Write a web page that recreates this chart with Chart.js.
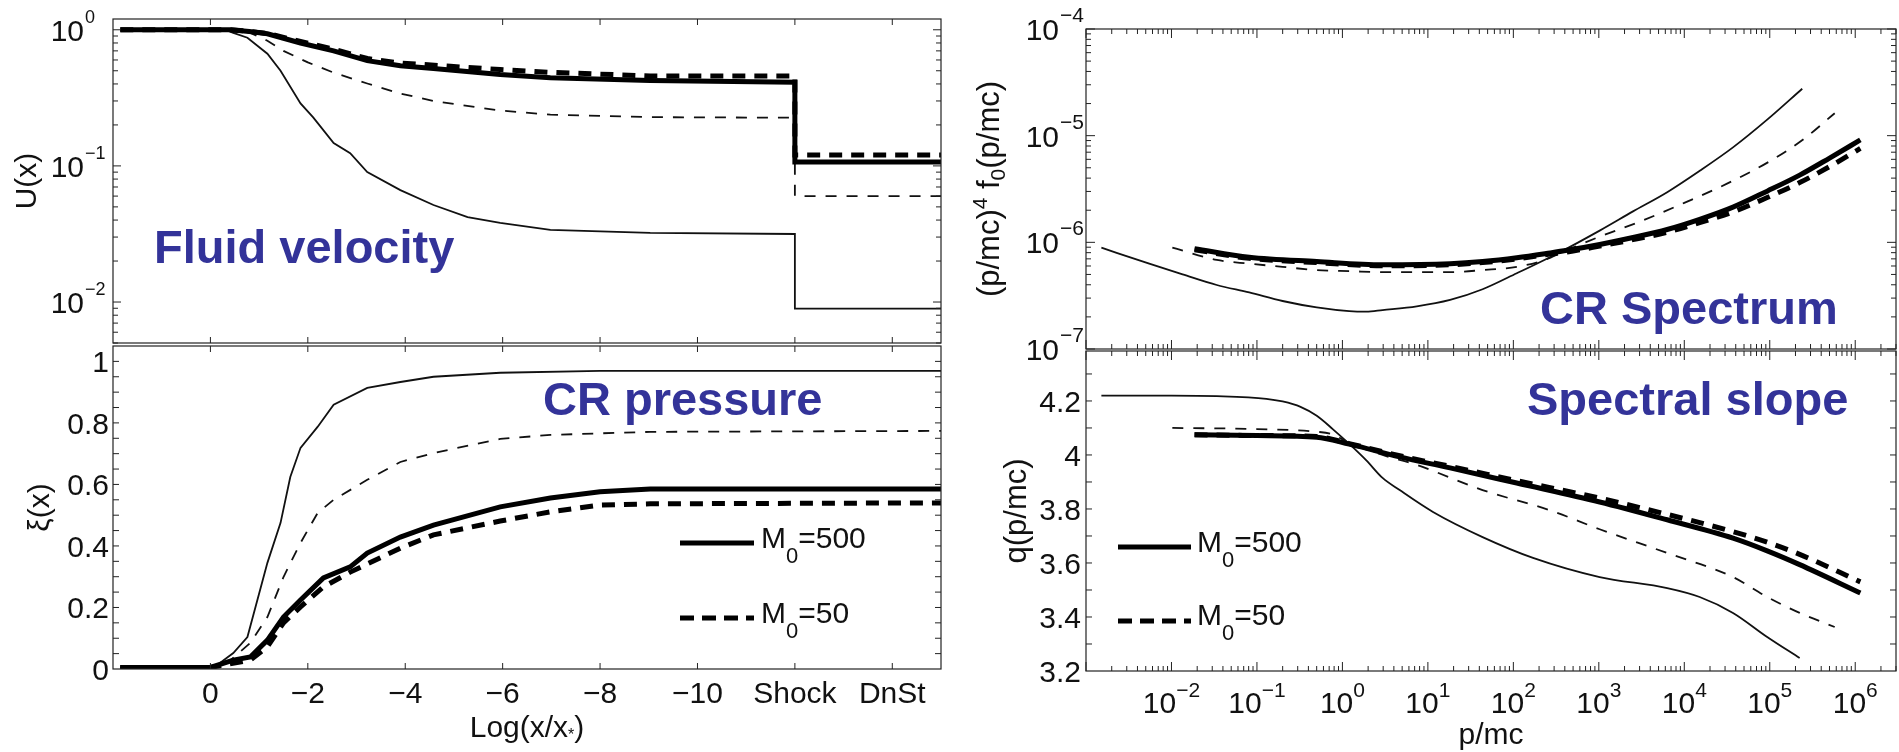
<!DOCTYPE html>
<html>
<head>
<meta charset="utf-8">
<title>Fluid velocity, CR pressure, CR spectrum, spectral slope</title>
<script src="https://cdn.jsdelivr.net/npm/chart.js@4.4.1/dist/chart.umd.min.js"></script>
<style>
  html, body { margin: 0; padding: 0; background: #fff; }
  #wrap { position: relative; width: 1899px; height: 752px; overflow: hidden; }
  #wrap canvas { position: absolute; left: 0; top: 0; }
</style>
</head>
<body>
<div id="wrap">
  <canvas id="velChart" width="1899" height="752"></canvas>
  <canvas id="pressChart" width="1899" height="752"></canvas>
  <canvas id="specChart" width="1899" height="752"></canvas>
  <canvas id="slopeChart" width="1899" height="752"></canvas>
</div>
<script>
// ---- values ----

// left column: x = Log(x/x*), shock drawn at -12, downstream at -14
const shockTicks = [0, -2, -4, -6, -8, -10, -12, -14];
const shockTickLabels = ['0', '−2', '−4', '−6', '−8', '−10', 'Shock', 'DnSt'];

// fluid velocity U(x)
const velThickX = [1.85, -0.4, -0.8, -1.17, -1.85, -2.53, -3.22, -3.9, -4.58, -5.95, -6.98, -9.03, -12, -12, -15];
const velThick = [1.0, 1.0, 0.97, 0.935, 0.80, 0.70, 0.593, 0.545, 0.519, 0.469, 0.445, 0.424, 0.411, 0.107, 0.107];
const velThickDashX = [1.85, -0.4, -0.8, -1.17, -1.85, -2.53, -3.22, -3.9, -4.93, -5.95, -6.98, -9.03, -12, -12, -15];
const velThickDash = [1.0, 1.0, 0.975, 0.94, 0.82, 0.72, 0.615, 0.57, 0.539, 0.51, 0.487, 0.458, 0.458, 0.12, 0.12];
const velThinX = [1.85, -0.3, -0.47, -0.76, -1.17, -1.44, -1.85, -2.11, -2.53, -2.87, -3.22, -3.9, -4.58, -5.28, -5.95, -6.98, -9.03, -12, -12, -15];
const velThin = [1.0, 1.0, 0.95, 0.874, 0.667, 0.50, 0.288, 0.227, 0.147, 0.124, 0.090, 0.0664, 0.0516, 0.0421, 0.0381, 0.0339, 0.0322, 0.0316, 0.00895, 0.00895];
const velThinDashX = [1.85, -0.4, -0.82, -1.17, -1.5, -2.0, -2.53, -3.22, -3.9, -4.58, -5.95, -6.98, -9.03, -12, -12, -15];
const velThinDash = [1.0, 1.0, 0.95, 0.83, 0.70, 0.576, 0.484, 0.403, 0.34, 0.30, 0.255, 0.238, 0.228, 0.226, 0.06, 0.06];
const velExp = [0, -1, -2];

// CR pressure xi(x)
const pressThickX = [1.85, 0, -0.47, -0.82, -1.17, -1.5, -1.85, -2.32, -2.87, -3.22, -3.9, -4.58, -5.95, -6.98, -8, -9.03, -15];
const pressThick = [0.005, 0.005, 0.029, 0.039, 0.094, 0.169, 0.224, 0.296, 0.332, 0.377, 0.429, 0.468, 0.527, 0.556, 0.576, 0.585, 0.585];
const pressThickDashX = [1.85, 0, -0.82, -1.17, -1.5, -1.85, -2.32, -2.87, -3.9, -4.58, -5.95, -6.98, -8, -9.03, -15];
const pressThickDash = [0.005, 0.005, 0.029, 0.072, 0.15, 0.202, 0.267, 0.315, 0.393, 0.436, 0.481, 0.511, 0.533, 0.537, 0.54];
const pressThinX = [1.85, 0, -0.14, -0.47, -0.76, -1.17, -1.44, -1.64, -1.85, -2.2, -2.53, -3.22, -3.9, -4.58, -5.95, -8, -15];
const pressThin = [0.005, 0.005, 0.013, 0.052, 0.104, 0.345, 0.475, 0.624, 0.719, 0.787, 0.859, 0.914, 0.933, 0.95, 0.963, 0.969, 0.969];
const pressThinDashX = [1.85, 0, -0.35, -0.82, -1.17, -1.5, -1.85, -2.2, -2.53, -3.22, -3.9, -4.58, -5.95, -6.98, -9.03, -15];
const pressThinDash = [0.005, 0.005, 0.02, 0.085, 0.169, 0.299, 0.41, 0.507, 0.55, 0.615, 0.673, 0.702, 0.748, 0.761, 0.771, 0.774];
const xiTicks = [0, 0.2, 0.4, 0.6, 0.8, 1];

// CR spectrum, log10(p/mc) vs log10((p/mc)^4 f0)
const specThinLogP = [-2.82, -2.26, -1.87, -1.47, -1.09, -0.70, -0.30, 0.08, 0.28, 0.47, 0.87, 1.26, 1.64, 2.04, 2.55, 3.01, 3.40, 3.80, 4.18, 4.57, 4.97, 5.38];
const specThinLogF = [-6.05, -6.20, -6.30, -6.40, -6.47, -6.55, -6.61, -6.645, -6.65, -6.635, -6.60, -6.54, -6.44, -6.29, -6.09, -5.89, -5.71, -5.53, -5.33, -5.11, -4.85, -4.56];
const specThinDashLogP = [-1.99, -1.47, -1.09, -0.70, -0.30, 0.08, 0.47, 0.87, 1.26, 1.64, 2.04, 2.35, 2.58, 3.0, 3.5, 4.0, 4.5, 5.0, 5.4, 5.76];
const specThinDashLogF = [-6.05, -6.165, -6.20, -6.23, -6.26, -6.27, -6.28, -6.28, -6.28, -6.26, -6.23, -6.17, -6.09, -5.95, -5.80, -5.63, -5.45, -5.24, -5.03, -4.79];
const specThickLogP = [-1.73, -1.09, -0.30, 0.47, 1.26, 1.64, 2.04, 2.43, 2.63, 3.01, 3.40, 3.80, 4.18, 4.57, 4.97, 5.35, 5.70, 6.06];
const specThickLogF = [-6.06, -6.14, -6.18, -6.21, -6.20, -6.18, -6.145, -6.10, -6.075, -6.02, -5.955, -5.88, -5.785, -5.67, -5.52, -5.37, -5.21, -5.04];
const specThickDashLogF = [-6.07, -6.15, -6.19, -6.22, -6.21, -6.19, -6.155, -6.11, -6.09, -6.035, -5.975, -5.905, -5.815, -5.715, -5.58, -5.44, -5.29, -5.12];
const specExp = [-4, -5, -6, -7];

// spectral slope q(p/mc)
const slopeThinLogP = [-2.82, -2.0, -1.47, -0.89, -0.70, -0.49, -0.30, -0.11, 0.08, 0.28, 0.47, 0.67, 1.06, 1.64, 2.23, 3.01, 3.80, 4.18, 4.57, 4.97, 5.35];
const slopeThin = [4.22, 4.22, 4.218, 4.208, 4.198, 4.178, 4.145, 4.095, 4.041, 3.98, 3.915, 3.870, 3.789, 3.696, 3.619, 3.548, 3.507, 3.474, 3.415, 3.326, 3.248];
const slopeThinDashLogP = [-1.99, -1.0, -0.30, -0.11, 0.08, 0.47, 0.87, 1.64, 2.43, 3.01, 3.80, 4.57, 4.97, 5.35, 5.76];
const slopeThinDash = [4.10, 4.096, 4.086, 4.076, 4.044, 4.000, 3.963, 3.870, 3.795, 3.725, 3.637, 3.548, 3.474, 3.415, 3.363];
const slopeThickLogP = [-1.73, -1.0, -0.30, 0.08, 0.67, 1.26, 2.04, 3.01, 3.80, 4.57, 4.97, 5.35, 6.06];
const slopeThick = [4.075, 4.072, 4.066, 4.040, 3.993, 3.952, 3.896, 3.826, 3.760, 3.692, 3.645, 3.594, 3.489];
const slopeThickDash = [4.075, 4.072, 4.068, 4.042, 3.997, 3.958, 3.905, 3.840, 3.780, 3.716, 3.677, 3.632, 3.530];
const qTicks = [3.2, 3.4, 3.6, 3.8, 4, 4.2];
const pExp = [-2, -1, 0, 1, 2, 3, 4, 5, 6];

const machLabels = ['500', '50'];

// ---- styles ----
const FONT = '"Liberation Sans", Arial, Helvetica, sans-serif';
const BLUE = '#333399';
const INK = '#111';
const THICK = { borderWidth: 5, borderColor: '#000' };
const THICK_DASH = { borderWidth: 5, borderColor: '#000', borderDash: [13, 9] };
const THIN = { borderWidth: 1.8, borderColor: '#111' };
const THIN_DASH = { borderWidth: 1.8, borderColor: '#111', borderDash: [11, 10] };
const SMOOTH = { cubicInterpolationMode: 'monotone' };
const pow10 = v => Math.pow(10, v);

function series(xs, ys, style, fx, fy) {
  return Object.assign({
    data: xs.map((x, i) => ({ x: fx ? fx(x) : x, y: fy ? fy(ys[i]) : ys[i] })),
    pointRadius: 0,
    fill: false,
    tension: 0,
    borderCapStyle: 'butt',
    borderJoinStyle: 'miter'
  }, style);
}

// ---- drawing helpers for the matlab-like frame ----
function setFont(ctx, size, bold) {
  ctx.font = (bold ? 'bold ' : '') + size + 'px ' + FONT;
}

// parts: [text, size, dy]
function rich(ctx, parts, x, y, align) {
  let w = 0;
  parts.forEach(p => { setFont(ctx, p[1]); w += ctx.measureText(p[0]).width; });
  let cx = align === 'right' ? x - w : (align === 'center' ? x - w / 2 : x);
  ctx.textAlign = 'left';
  ctx.textBaseline = 'alphabetic';
  parts.forEach(p => {
    setFont(ctx, p[1]);
    ctx.fillText(p[0], cx, y + (p[2] || 0));
    cx += ctx.measureText(p[0]).width;
  });
}

function vrich(ctx, parts, cx, cy) {
  ctx.save();
  ctx.translate(cx, cy);
  ctx.rotate(-Math.PI / 2);
  rich(ctx, parts, 0, 10, 'center');
  ctx.restore();
}

function expStr(e) {
  return e < 0 ? '−' + (-e) : String(e);
}

function frame(ctx, a) {
  ctx.strokeStyle = '#222';
  ctx.lineWidth = 1.2;
  ctx.setLineDash([]);
  ctx.strokeRect(a.left, a.top, a.right - a.left, a.bottom - a.top);
  ctx.lineWidth = 1;
}

function xTick(ctx, a, px, len) {
  ctx.beginPath();
  ctx.moveTo(px, a.top); ctx.lineTo(px, a.top + len);
  ctx.moveTo(px, a.bottom); ctx.lineTo(px, a.bottom - len);
  ctx.stroke();
}

function yTick(ctx, a, py, len) {
  ctx.beginPath();
  ctx.moveTo(a.left, py); ctx.lineTo(a.left + len, py);
  ctx.moveTo(a.right, py); ctx.lineTo(a.right - len, py);
  ctx.stroke();
}

function logTicks(scale, fromExp, toExp, each) {
  for (let e = fromExp; e <= toExp; e++) {
    for (let m = 1; m <= 9; m++) {
      const v = m * Math.pow(10, e);
      if (v < scale.min * 0.999 || v > scale.max * 1.001) continue;
      each(scale.getPixelForValue(v), m === 1);
    }
  }
}

function drawLegend(ctx, x0, x1, y, dash, tx, ty, mach) {
  ctx.save();
  ctx.strokeStyle = '#000';
  ctx.lineWidth = 5;
  ctx.lineCap = 'butt';
  ctx.setLineDash(dash);
  ctx.beginPath(); ctx.moveTo(x0, y); ctx.lineTo(x1, y); ctx.stroke();
  ctx.restore();
  ctx.fillStyle = INK;
  rich(ctx, [['M', 30], ['0', 22, 15], ['=' + mach, 30]], tx, ty, 'left');
}

function panelTitle(ctx, text, x, y) {
  ctx.fillStyle = BLUE;
  setFont(ctx, 47, true);
  ctx.textAlign = 'left';
  ctx.textBaseline = 'alphabetic';
  ctx.fillText(text, x, y);
}

function panel(id, pad, xOpts, yOpts, datasets, decorate) {
  return new Chart(document.getElementById(id), {
    type: 'line',
    data: { datasets: datasets },
    options: {
      responsive: false,
      animation: false,
      devicePixelRatio: 1,
      events: [],
      layout: { padding: pad },
      scales: {
        x: Object.assign({ display: false, bounds: 'data' }, xOpts),
        y: Object.assign({ display: false, bounds: 'data' }, yOpts)
      },
      plugins: { legend: { display: false }, tooltip: { enabled: false } }
    },
    plugins: [{
      id: id + 'Deco',
      afterDraw: chart => {
        const ctx = chart.ctx;
        ctx.save();
        decorate(chart, ctx, chart.chartArea);
        ctx.restore();
      }
    }]
  });
}

// ---- fluid velocity ----
panel('velChart', { left: 113, top: 19, right: 958, bottom: 409 },
  { type: 'linear', min: -15, max: 2, reverse: true },
  { type: 'logarithmic', min: 0.005, max: 1.2 },
  [
    series(velThickX, velThick, THICK),
    series(velThickDashX, velThickDash, THICK_DASH),
    series(velThinX, velThin, THIN),
    series(velThinDashX, velThinDash, THIN_DASH)
  ],
  (chart, ctx, a) => {
    const sx = chart.scales.x, sy = chart.scales.y;
    frame(ctx, a);
    shockTicks.forEach(v => xTick(ctx, a, sx.getPixelForValue(v), 6));
    logTicks(sy, -3, 0, (py, major) => yTick(ctx, a, py, major ? 8 : 5));
    ctx.fillStyle = INK;
    velExp.forEach(e => {
      const py = sy.getPixelForValue(pow10(e));
      setFont(ctx, 30); ctx.textAlign = 'right';
      ctx.fillText('10', a.left - 29, py + 11);
      setFont(ctx, 18); ctx.textAlign = 'left';
      ctx.fillText(expStr(e), a.left - 28, py - 7);
    });
    vrich(ctx, [['U(x)', 30]], 26, (a.top + a.bottom) / 2);
    panelTitle(ctx, 'Fluid velocity', 154, 263);
  });

// ---- CR pressure ----
panel('pressChart', { left: 113, top: 346, right: 958, bottom: 83 },
  { type: 'linear', min: -15, max: 2, reverse: true },
  { type: 'linear', min: 0, max: 1.05 },
  [
    series(pressThickX, pressThick, THICK),
    series(pressThickDashX, pressThickDash, THICK_DASH),
    series(pressThinX, pressThin, THIN),
    series(pressThinDashX, pressThinDash, THIN_DASH)
  ],
  (chart, ctx, a) => {
    const sx = chart.scales.x, sy = chart.scales.y;
    frame(ctx, a);
    shockTicks.forEach(v => xTick(ctx, a, sx.getPixelForValue(v), 6));
    for (let i = 1; i <= 20; i++) yTick(ctx, a, sy.getPixelForValue(i * 0.05), 6);
    ctx.fillStyle = INK;
    setFont(ctx, 30);
    ctx.textAlign = 'right';
    xiTicks.forEach(v => ctx.fillText(String(v), a.left - 4, sy.getPixelForValue(v) + 11));
    ctx.textAlign = 'center';
    shockTicks.forEach((v, i) => ctx.fillText(shockTickLabels[i], sx.getPixelForValue(v), a.bottom + 34));
    rich(ctx, [['Log(x/x', 30], ['*', 16, 3], [')', 30]], (a.left + a.right) / 2, 737, 'center');
    vrich(ctx, [['ξ(x)', 30]], 39, (a.top + a.bottom) / 2);
    panelTitle(ctx, 'CR pressure', 543, 415);
    drawLegend(ctx, 680, 754, 543, [], 761, 548, machLabels[0]);
    drawLegend(ctx, 680, 754, 618, [14, 8], 761, 623, machLabels[1]);
  });

// ---- CR spectrum ----
panel('specChart', { left: 1086, top: 29, right: 3, bottom: 403 },
  { type: 'logarithmic', min: 1e-3, max: 3e6 },
  { type: 'logarithmic', min: 1e-7, max: 1e-4 },
  [
    series(specThickLogP, specThickLogF, Object.assign({}, THICK, SMOOTH), pow10, pow10),
    series(specThickLogP, specThickDashLogF, Object.assign({}, THICK_DASH, SMOOTH), pow10, pow10),
    series(specThinLogP, specThinLogF, Object.assign({}, THIN, SMOOTH), pow10, pow10),
    series(specThinDashLogP, specThinDashLogF, Object.assign({}, THIN_DASH, SMOOTH), pow10, pow10)
  ],
  (chart, ctx, a) => {
    const sx = chart.scales.x, sy = chart.scales.y;
    frame(ctx, a);
    logTicks(sx, -3, 6, (px, major) => xTick(ctx, a, px, major ? 9 : 5));
    logTicks(sy, -7, -4, (py, major) => yTick(ctx, a, py, major ? 9 : 5));
    ctx.fillStyle = INK;
    specExp.forEach(e => {
      const py = sy.getPixelForValue(pow10(e));
      setFont(ctx, 30); ctx.textAlign = 'right';
      ctx.fillText('10', a.left - 27, py + 11);
      setFont(ctx, 21); ctx.textAlign = 'left';
      ctx.fillText(expStr(e), a.left - 26, py - 7);
    });
    vrich(ctx, [['(p/mc)', 31], ['4', 21, -12], [' f', 31], ['0', 21, 6], ['(p/mc)', 31]], 989, (a.top + a.bottom) / 2);
    panelTitle(ctx, 'CR Spectrum', 1540, 324);
  });

// ---- spectral slope ----
panel('slopeChart', { left: 1086, top: 351, right: 3, bottom: 81 },
  { type: 'logarithmic', min: 1e-3, max: 3e6 },
  { type: 'linear', min: 3.2, max: 4.385 },
  [
    series(slopeThickLogP, slopeThick, Object.assign({}, THICK, SMOOTH), pow10),
    series(slopeThickLogP, slopeThickDash, Object.assign({}, THICK_DASH, SMOOTH), pow10),
    series(slopeThinLogP, slopeThin, Object.assign({}, THIN, SMOOTH), pow10),
    series(slopeThinDashLogP, slopeThinDash, Object.assign({}, THIN_DASH, SMOOTH), pow10)
  ],
  (chart, ctx, a) => {
    const sx = chart.scales.x, sy = chart.scales.y;
    frame(ctx, a);
    logTicks(sx, -3, 6, (px, major) => xTick(ctx, a, px, major ? 9 : 5));
    for (let i = 1; i <= 11; i++) yTick(ctx, a, sy.getPixelForValue(3.2 + i * 0.1), 6);
    ctx.fillStyle = INK;
    setFont(ctx, 30);
    ctx.textAlign = 'right';
    qTicks.forEach(v => ctx.fillText(String(v), a.left - 5, sy.getPixelForValue(v) + 11));
    pExp.forEach(e => {
      rich(ctx, [['10', 30], [expStr(e), 21, -16]], sx.getPixelForValue(pow10(e)), a.bottom + 42, 'center');
    });
    rich(ctx, [['p/mc', 30]], (a.left + a.right) / 2, 744, 'center');
    vrich(ctx, [['q(p/mc)', 31]], 1016, (a.top + a.bottom) / 2);
    panelTitle(ctx, 'Spectral slope', 1527, 415);
    drawLegend(ctx, 1118, 1191, 547, [], 1197, 552, machLabels[0]);
    drawLegend(ctx, 1118, 1191, 621, [14, 8], 1197, 625, machLabels[1]);
  });
</script>
</body>
</html>
